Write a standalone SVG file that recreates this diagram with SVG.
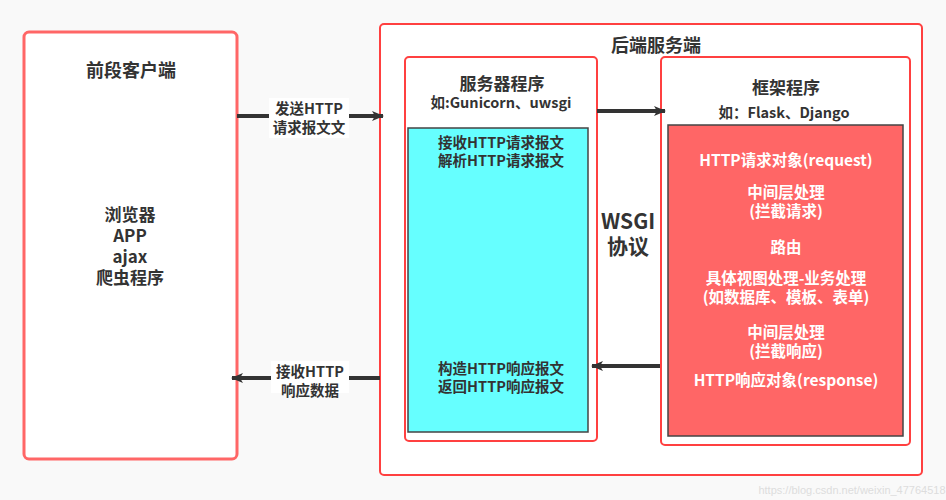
<svg xmlns="http://www.w3.org/2000/svg" width="946" height="500" viewBox="0 0 946 500">
<defs>
<marker id="ah" viewBox="0 0 12 10" refX="11" refY="5" markerWidth="12" markerHeight="10" markerUnits="userSpaceOnUse" orient="auto">
<path d="M0,0 L12,5 L0,10 L3,5 Z" fill="#333"/>
</marker>
<style>
text{font-family:"Noto Sans CJK SC","Noto Sans",sans-serif;font-weight:bold;text-anchor:middle;fill:#333}
.t18{font-size:18px}
.t17{font-size:17px}
.t14{font-size:14.5px}
.w{fill:#fff;font-size:15.5px}
.box{fill:#fff;stroke:#ff4040;stroke-width:2}
.edge{stroke:#333;stroke-width:4;fill:none;marker-end:url(#ah)}
.lbl{fill:#fff}
</style>
</defs>
<rect width="946" height="500" fill="#f9f9f9"/>
<g id="client">
<rect x="24" y="32" width="213" height="427" rx="5" fill="#fff" stroke="#ff6666" stroke-width="3"/>
<text class="t18" x="131" y="77">前段客户端</text>
<text class="t17" x="130" y="221">浏览器</text>
<text class="t17" x="130" y="242">APP</text>
<text class="t17" x="130" y="263">ajax</text>
<text class="t17" x="130" y="284">爬虫程序</text>
</g>
<g id="backend">
<rect class="box" x="380" y="24" width="542" height="451" rx="4"/>
<text class="t18" x="656" y="52">后端服务端</text>
</g>
<g id="server">
<rect class="box" x="405" y="57" width="192" height="384" rx="4"/>
<text class="t17" x="502" y="90">服务器程序</text>
<text class="t14" x="501" y="108">如:Gunicorn、uwsgi</text>
<rect x="408" y="128" width="180" height="304" fill="#66ffff" stroke="#444" stroke-width="1.5"/>
<text class="t14" x="501" y="148">接收HTTP请求报文</text>
<text class="t14" x="501" y="166">解析HTTP请求报文</text>
<text class="t14" x="501" y="374">构造HTTP响应报文</text>
<text class="t14" x="501" y="392">返回HTTP响应报文</text>
</g>
<g id="wsgi">
<text x="628" y="229" style="font-size:21px">WSGI</text>
<text x="628" y="254" style="font-size:21px">协议</text>
</g>
<g id="framework">
<rect class="box" x="661" y="57" width="249" height="388" rx="4"/>
<text class="t17" x="786" y="94">框架程序</text>
<text class="t14" x="784" y="118">如：Flask、Django</text>
<rect x="668" y="125" width="235" height="311" fill="#ff6666" stroke="#444" stroke-width="1.5"/>
<text class="w" x="786" y="166">HTTP请求对象(request)</text>
<text class="w" x="786" y="198">中间层处理</text>
<text class="w" x="786" y="217">(拦截请求)</text>
<text class="w" x="786" y="253">路由</text>
<text class="w" x="786" y="284">具体视图处理-业务处理</text>
<text class="w" x="786" y="303">(如数据库、模板、表单)</text>
<text class="w" x="786" y="338">中间层处理</text>
<text class="w" x="786" y="357">(拦截响应)</text>
<text class="w" x="786" y="386">HTTP响应对象(response)</text>
</g>
<g id="edges">
<line class="edge" x1="237" y1="116" x2="383" y2="116"/>
<rect class="lbl" x="269" y="98" width="80" height="40"/>
<text class="t14" x="309" y="114">发送HTTP</text>
<text class="t14" x="309" y="133">请求报文文</text>
<line class="edge" x1="597" y1="111" x2="665" y2="111"/>
<line class="edge" x1="660" y1="366" x2="592" y2="366"/>
<line class="edge" x1="380" y1="378" x2="232" y2="378"/>
<rect class="lbl" x="271" y="361" width="78" height="32"/>
<text class="t14" x="310" y="377">接收HTTP</text>
<text class="t14" x="310" y="396">响应数据</text>
</g>
<text x="852" y="494" style="font-size:11px;font-weight:normal;fill:#ddd;font-family:'Liberation Sans',sans-serif">https://blog.csdn.net/weixin_47764518</text>
</svg>
